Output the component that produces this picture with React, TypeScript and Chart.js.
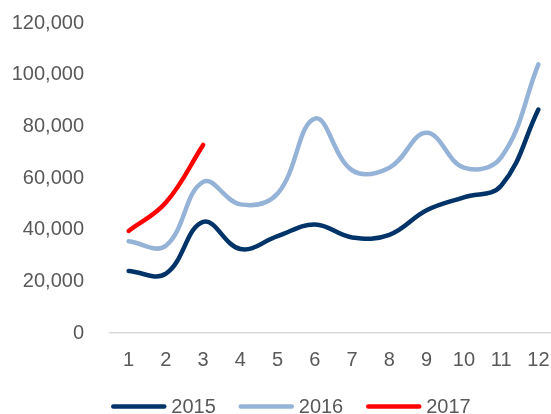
import React, { useEffect, useRef } from "react";
import { Chart, registerables } from "chart.js";

Chart.register(...registerables);

const months = ["1", "2", "3", "4", "5", "6", "7", "8", "9", "10", "11", "12"];
const series2015 = [24000, 23000, 43000, 32500, 37500, 42000, 37000, 38000, 47500, 52500, 57000, 86500];
const series2016 = [35500, 33800, 58500, 49800, 54000, 83000, 63000, 64000, 77500, 64000, 68000, 104000];
const series2017 = [39500, 50500, 72800];
const seriesLabels = ["2015", "2016", "2017"];
const seriesColors = ["#003469", "#95B3D7", "#FF0000"];
const yMin = 0;
const yMax = 120000;
const yStep = 20000;

const FONT = '"Liberation Sans", Arial, sans-serif';
const TEXT_COLOR = "#595959";

const legendPlugin = {
  id: "bottomLegend",
  afterDraw(chart: any) {
    const ctx = chart.ctx as CanvasRenderingContext2D;
    ctx.save();
    ctx.font = `20px ${FONT}`;
    const lineLen = 55;
    const gap = 5;
    const itemGap = 23;
    const items = chart.data.datasets.map((ds: any) => ({
      label: ds.label as string,
      color: ds.borderColor as string,
      w: ctx.measureText(ds.label).width,
    }));
    const total =
      items.reduce((s: number, it: any) => s + lineLen + gap + it.w, 0) + itemGap * (items.length - 1);
    let x = 291 - total / 2;
    const lineY = 406.5;
    const baseY = 412.5;
    for (const it of items) {
      ctx.beginPath();
      ctx.strokeStyle = it.color;
      ctx.lineWidth = 4.5;
      ctx.lineCap = "round";
      ctx.moveTo(x + 2, lineY);
      ctx.lineTo(x + lineLen - 2, lineY);
      ctx.stroke();
      ctx.fillStyle = TEXT_COLOR;
      ctx.textAlign = "left";
      ctx.textBaseline = "alphabetic";
      ctx.fillText(it.label, x + lineLen + gap, baseY);
      x += lineLen + gap + it.w + itemGap;
    }
    ctx.restore();
  },
};

export default function App() {
  const canvasRef = useRef<HTMLCanvasElement | null>(null);

  useEffect(() => {
    const canvas = canvasRef.current;
    if (!canvas) return;
    const dataSeries = [series2015, series2016, series2017];
    const chart = new Chart(canvas, {
      type: "line",
      data: {
        labels: months,
        datasets: dataSeries.map((d, i) => ({
          label: seriesLabels[i],
          data: d,
          borderColor: seriesColors[i],
          backgroundColor: seriesColors[i],
          borderWidth: 4.5,
          borderCapStyle: "round" as const,
          borderJoinStyle: "round" as const,
          pointRadius: 0,
          pointHoverRadius: 0,
          tension: 0.4,
          fill: false,
        })),
      },
      options: {
        responsive: false,
        animation: false,
        devicePixelRatio: 1,
        layout: { padding: { top: 23, bottom: 38, left: 0, right: 0 } },
        plugins: {
          legend: { display: false },
          tooltip: { enabled: false },
        },
        scales: {
          x: {
            type: "category",
            offset: true,
            grid: {
              display: true,
              color: "rgba(0,0,0,0)",
              drawOnChartArea: false,
              drawTicks: true,
              tickLength: 15,
            },
            border: { display: true, color: "#D9D9D9", width: 1.5 },
            ticks: {
              color: TEXT_COLOR,
              font: { family: FONT, size: 20 },
              padding: 0,
              maxRotation: 0,
              autoSkip: false,
            },
            afterFit(scale: any) {
              scale.height = 43;
            },
          },
          y: {
            min: yMin,
            max: yMax,
            grid: {
              display: true,
              color: "rgba(0,0,0,0)",
              drawOnChartArea: false,
              drawTicks: true,
              tickLength: 26,
            },
            border: { display: false },
            ticks: {
              stepSize: yStep,
              color: TEXT_COLOR,
              font: { family: FONT, size: 20 },
              padding: 0,
              callback: (v: any) => Number(v).toLocaleString("en-US"),
            },
            afterFit(scale: any) {
              scale.width = 110;
            },
          },
        },
      },
      plugins: [legendPlugin],
    });
    return () => chart.destroy();
  }, []);

  return (
    <div
      style={{
        position: "fixed",
        left: 0,
        top: 0,
        width: 551,
        height: 414,
        overflow: "hidden",
        background: "#fff",
      }}
    >
      <canvas ref={canvasRef} width={557} height={414} style={{ display: "block", width: 557, height: 414 }} />
    </div>
  );
}
